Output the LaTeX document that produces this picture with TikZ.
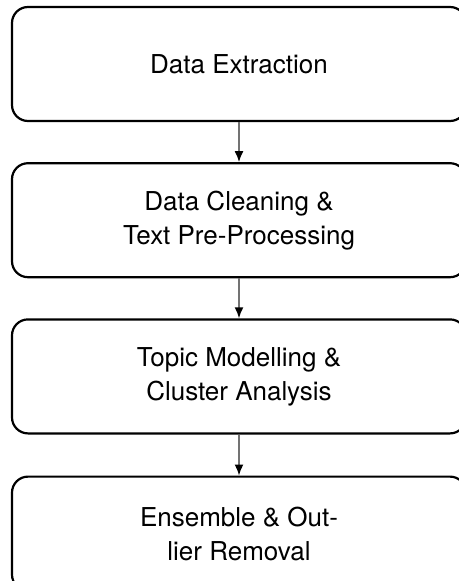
\documentclass[tikz,border=0pt]{standalone}
\usepackage{fontspec}
\setmainfont{TeX Gyre Heros}
\usepackage{tikz}
\usetikzlibrary{positioning,arrows.meta}

\begin{document}
\begin{tikzpicture}[x=1pt, y=1pt, font=\fontsize{26}{34}\selectfont, node distance=40pt,
  box/.style={draw, line width=2.2pt, rounded corners=16pt, align=center,
    minimum width=454pt, minimum height=114pt, inner sep=0pt},
  arr/.style={draw=black!55, line width=1.6pt, -{Latex[black, length=11pt, width=9pt]}}]
\useasboundingbox (0,0) rectangle (458,-581);
\node[box] (ext) at (239,-64) {Data Extraction};
\node[box, below=of ext] (clean) {Data Cleaning \&\\ Text Pre-Processing};
\node[box, below=of clean] (topic) {Topic Modelling \&\\ Cluster Analysis};
\node[box, below=41pt of topic] (ens) {Ensemble \& Out-\\ lier Removal};
\draw[arr] (ext) -- (clean); \draw[arr] (clean) -- (topic);
\draw[arr] (topic) -- (ens);
\end{tikzpicture}
\end{document}
